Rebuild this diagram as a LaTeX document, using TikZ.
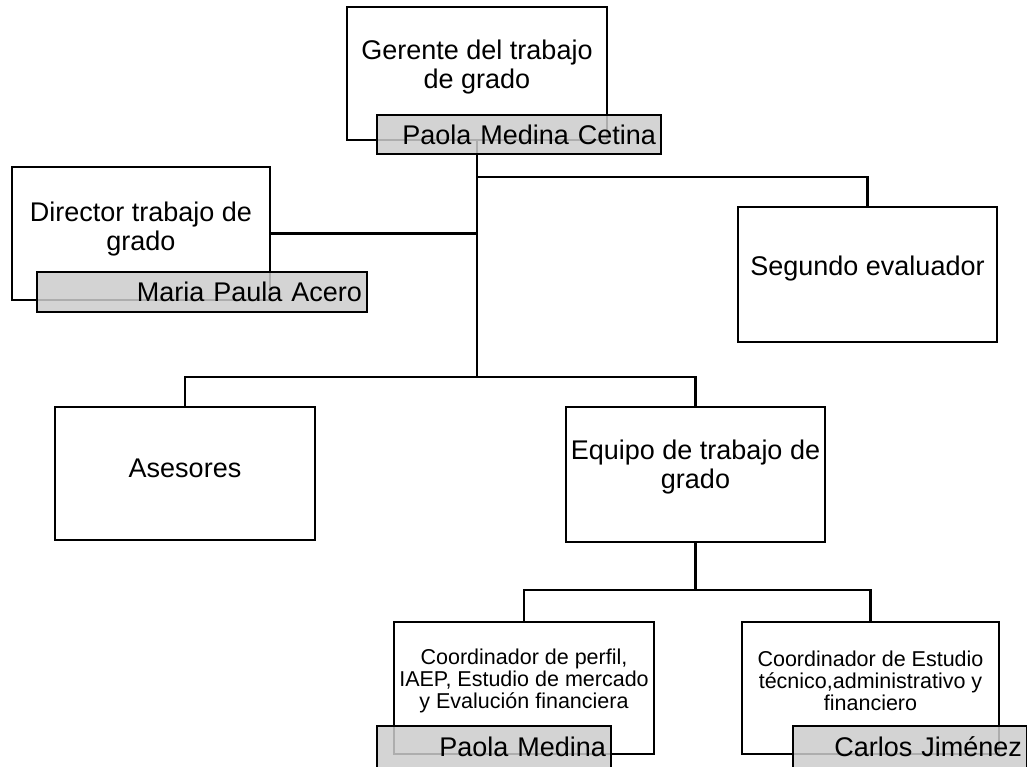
\documentclass[tikz,border=0pt]{standalone}
\usepackage{fontspec}
\setmainfont{Liberation Sans}
\begin{document}
\begin{tikzpicture}[x=1pt,y=-1pt,
  box/.style 2 args={draw=black, line width=2.8pt, fill=white, minimum width=#1, minimum height=#2, inner sep=0pt},
  tag/.style 2 args={draw=black, line width=2.8pt, fill=black!20, fill opacity=0.85, text opacity=1,
     text width=#1, minimum height=#2, inner xsep=5pt, inner ysep=0pt, align=right, font=\big},
  big/.style={font=\big, align=center, inner sep=0pt},
  small/.style={font=\fontsize{21.5}{22}\selectfont, align=center, inner sep=0pt},
  link/.style={draw=black, line width=2.8pt},
]
\def\big{\fontsize{27}{28.5}\selectfont}
\useasboundingbox (0,0) rectangle (1027,767);

% boxes
\node[box={260}{133}] (ger) at (477,73.5) {};
\node[box={258}{133}] (dir) at (141,233.5) {};
\node[box={259}{135}] (seg) at (867.5,274.5) {};
\node[box={260}{133}] (ase) at (185,473.5) {};
\node[box={259}{135}] (equ) at (695.5,474.5) {};
\node[box={260}{132}] (c1) at (524,688) {};
\node[box={257}{132}] (c2) at (870.5,688) {};

% texts
\node[big] (tger) at (477,67) {Gerente del trabajo\\de grado};
\node[big] (tdir) at (141,229) {Director trabajo de\\grado};
\node[big] (tseg) at (867.5,269) {Segundo evaluador};
\node[big] (tase) at (185,468) {Asesores};
\node[big] (tequ) at (695.5,467) {Equipo de trabajo de\\grado};
\node[small] (tc1) at (524,681) {Coordinador de perfil,\\IAEP, Estudio de mercado\\y Evalución financiera};
\node[small] (tc2) at (870.5,681) {Coordinador de Estudio\\técnico,administrativo y\\financiero};

% connectors
\coordinate (hub) at (477,377);
\coordinate (hubtop) at (477,177);
\coordinate (eqhub) at (695.5,590);
\draw[link] (ger.south) -- (hub);
\draw[link] (hubtop) -| (seg.north);
\draw[link] (dir.east) -- (dir.east -| hub);
\draw[link] (ase.north) |- (hub) -| (equ.north);
\draw[link] (equ.south) -- (eqhub);
\draw[link] (c1.north) |- (eqhub) -| (c2.north);

% name tags
\node[tag={274}{39}] (gerl) at (519,134.5) {Paola Medina Cetina};
\node[tag={320}{40}] (dirl) at (202,292) {Maria Paula Acero};
\node[tag={224}{42}] (c1l) at (494,747) {Paola Medina};
\node[tag={224}{42}] (c2l) at (910,747) {Carlos Jiménez};
\end{tikzpicture}
\end{document}
